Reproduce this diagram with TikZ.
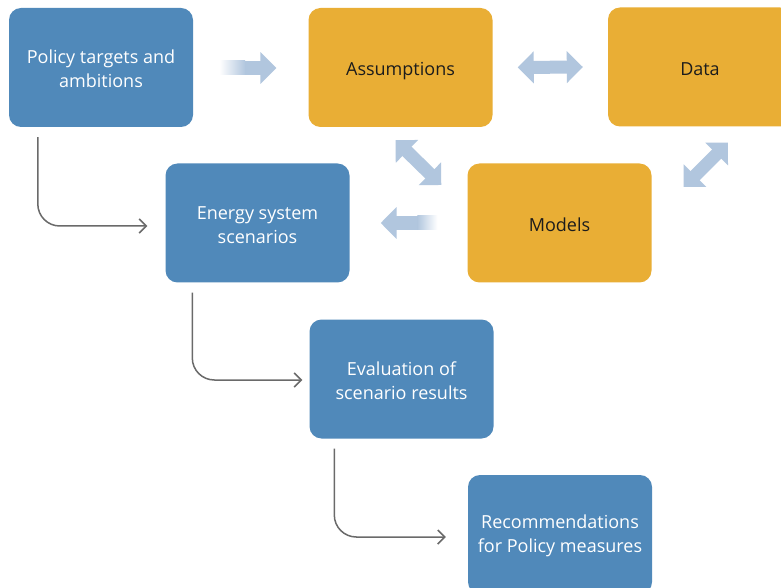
\documentclass[tikz,border=0pt]{standalone}
\usepackage{fontspec}
\setmainfont{Open Sans}
\usetikzlibrary{arrows.meta,positioning,calc}
\definecolor{boxblue}{HTML}{5089BA}
\definecolor{boxgold}{HTML}{E9AE35}
\definecolor{fatblue}{HTML}{B1C6DE}
\definecolor{linkgray}{HTML}{6A6A6A}
\definecolor{ink}{HTML}{1C1C1C}
\tikzset{
  stage/.style={fill=boxblue, rounded corners=12pt, minimum width=184pt, minimum height=119pt,
                align=center, text=white, font=\fontsize{18}{24}\selectfont, inner sep=0pt,
                text height=40.7pt},
  input/.style={stage, fill=boxgold, text=ink, text height=21pt, text depth=4pt},
  fat/.style={draw=fatblue, line width=14pt, -{Triangle[length=16pt,width=31pt]}},
  fatboth/.style={draw=fatblue, line width=13pt, {Triangle[length=16pt,width=31pt]}-{Triangle[length=16pt,width=31pt]}},
  link/.style={draw=linkgray, line width=1.5pt, rounded corners=22pt, -{Straight Barb[length=7pt,width=14pt]}},
}
\begin{document}
\begin{tikzpicture}[x=1pt,y=1pt]
\clip (0,0) rectangle (781,587);
\fill[white] (0,0) rectangle (781,587);

% Boxes ------------------------------------------------------------------------
\node[stage] (policy) at (101,519.5) {Policy targets and\\ambitions};
\node[input] (assume) at (400.5,519.5) {Assumptions};
\node[input] (data) at (700,520) {Data};
\node[stage] (energy) at (257.5,364) {Energy system\\scenarios};
\node[input] (models) at (559.5,364) {Models};
\node[stage] (evalres) at (401.5,208) {Evaluation of\\scenario results};
\node[stage] (recom) at (560,52.5) {Recommendations\\for Policy measures};

% Wide arrows ------------------------------------------------------------------
\draw[fat] ([xshift=27pt,yshift=-0.5pt]policy.east) -- ([xshift=-32pt,yshift=-0.5pt]assume.west);
\shade[left color=white, right color=fatblue]
  ([xshift=26pt,yshift=-7.5pt]policy.east) rectangle ([xshift=52pt,yshift=6.5pt]policy.east);
\draw[fatboth] ([xshift=25pt]assume.east) -- ([xshift=-25pt]data.west);
\draw[fatboth] ($(assume.south)+(-5,-13)$) -- ($(models.west)+(-26,38)$);
\draw[fatboth] ($(data.south)+(28,-16)$) -- ($(models.east)+(32,36)$);
\draw[fat] ([xshift=-31pt]models.west) -- ([xshift=31pt]energy.east);
\shade[left color=fatblue, right color=white]
  ([xshift=-50pt,yshift=-7pt]models.west) rectangle ([xshift=-30pt,yshift=7pt]models.west);

% Flow links -------------------------------------------------------------------
\draw[link] ([xshift=29pt,yshift=-10pt]policy.south west) |- ([xshift=-18pt,yshift=-3pt]energy.west);
\draw[link] ([xshift=27pt,yshift=-10pt]energy.south west) |- ([xshift=-7pt,yshift=-1pt]evalres.west);
\draw[link] ([xshift=25pt,yshift=-10pt]evalres.south west) |- ([xshift=-22pt,yshift=-2.5pt]recom.west);

\end{tikzpicture}
\end{document}
